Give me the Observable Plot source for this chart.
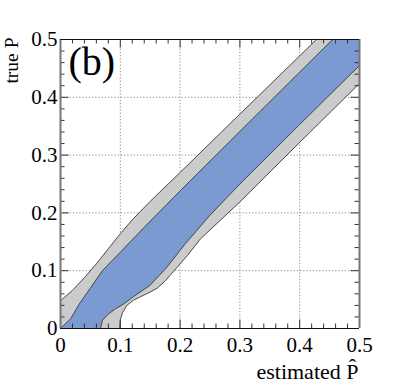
<!DOCTYPE html>
<html><head><meta charset="utf-8">
<script src="https://cdn.jsdelivr.net/npm/d3@7"></script>
<script src="https://cdn.jsdelivr.net/npm/@observablehq/plot@0.6"></script>
<style>
body{margin:0;background:#fff}
#chart svg text{font-family:'Liberation Serif','Times New Roman','DejaVu Serif',serif !important;}
</style>
</head><body><div id="chart"></div>
<script>
// Axis ticks
const majorTicks = [0, 0.1, 0.2, 0.3, 0.4, 0.5];
const minorTicks = [0.02, 0.04, 0.06, 0.08, 0.12, 0.14, 0.16, 0.18, 0.22, 0.24, 0.26, 0.28,
                    0.32, 0.34, 0.36, 0.38, 0.42, 0.44, 0.46, 0.48];
const gridTicks = [0.1, 0.2, 0.3, 0.4];
const domain = [0, 0.5];

// Contour edges (estimated P-hat, true P)
const outerUpperX = [0, 0.02, 0.04, 0.06, 0.08, 0.1, 0.12, 0.15, 0.2, 0.3, 0.428];
const outerUpperY = [0.048, 0.066, 0.088, 0.112, 0.138, 0.164, 0.188, 0.22, 0.27, 0.371, 0.5];
const innerUpperX = [0, 0.017, 0.033, 0.05, 0.07, 0.1, 0.137, 0.2, 0.3, 0.455];
const innerUpperY = [0, 0.017, 0.045, 0.07, 0.1, 0.132, 0.172, 0.238, 0.341, 0.5];
const innerLowerX = [0.067, 0.07, 0.08, 0.092, 0.105, 0.122, 0.15, 0.178, 0.209, 0.25, 0.3, 0.4, 0.5];
const innerLowerY = [0, 0.014, 0.025, 0.034, 0.042, 0.055, 0.075, 0.106, 0.147, 0.196, 0.25, 0.353, 0.455];
const outerLowerX = [0.099, 0.1, 0.104, 0.111, 0.122, 0.134, 0.148, 0.162, 0.175, 0.19, 0.212, 0.234, 0.3, 0.4, 0.5];
const outerLowerY = [0, 0.015, 0.028, 0.04, 0.049, 0.055, 0.062, 0.07, 0.082, 0.1, 0.126, 0.155, 0.219, 0.322, 0.424];
// band corner points (origin and top-right corner)
const cornerLow = {x: 0, y: 0};
const cornerHigh = {x: 0.5, y: 0.5};

const pts = (xs, ys) => xs.map((x, i) => ({x, y: ys[i]}));
const outerUpper = pts(outerUpperX, outerUpperY);
const innerUpper = pts(innerUpperX, innerUpperY);
const innerLower = pts(innerLowerX, innerLowerY);
const outerLower = pts(outerLowerX, outerLowerY);

const grayPoly = [cornerLow, ...outerUpper, cornerHigh, ...outerLower.slice().reverse(), cornerLow];
const bluePoly = [cornerLow, ...innerUpper, cornerHigh, ...innerLower.slice().reverse(), cornerLow];

const W = 399, H = 389, mL = 60, mR = 40, mT = 39, mB = 61;
const iw = W - mL - mR, ih = H - mT - mB;
const serif = "'Liberation Serif', 'Times New Roman', 'DejaVu Serif', serif";
const fmt = d => d === 0 ? "0" : d.toFixed(1);
const majLen = 8.5, minLen = 4.5;
const tickColor = "#333";
const edge = {x: "x", y: "y", stroke: "#3a3a3a", strokeWidth: 0.9};

const chart = Plot.plot({
  width: W, height: H,
  marginLeft: mL, marginRight: mR, marginTop: mT, marginBottom: mB,
  x: {domain, axis: null},
  y: {domain, axis: null},
  style: {fontFamily: serif, background: "white", color: "black"},
  marks: [
    Plot.ruleX(gridTicks, {x: d => d, stroke: "#8a8a8a", strokeDasharray: "1.2,2", strokeWidth: 1}),
    Plot.ruleY(gridTicks, {y: d => d, stroke: "#8a8a8a", strokeDasharray: "1.2,2", strokeWidth: 1}),
    Plot.line(grayPoly, {x: "x", y: "y", fill: "#cbcbcb", stroke: "none"}),
    Plot.line(bluePoly, {x: "x", y: "y", fill: "#7b9ad2", stroke: "none"}),
    Plot.line(outerUpper, edge),
    Plot.line(innerUpper, edge),
    Plot.line(innerLower, edge),
    Plot.line(outerLower, edge),
    // ticks (inward, all four sides)
    Plot.tickX(majorTicks, {x: d => d, insetTop: ih - majLen, stroke: tickColor}),
    Plot.tickX(minorTicks, {x: d => d, insetTop: ih - minLen, stroke: tickColor}),
    Plot.tickX(majorTicks, {x: d => d, insetBottom: ih - majLen, stroke: tickColor}),
    Plot.tickX(minorTicks, {x: d => d, insetBottom: ih - minLen, stroke: tickColor}),
    Plot.tickY(majorTicks, {y: d => d, insetRight: iw - majLen, stroke: tickColor}),
    Plot.tickY(minorTicks, {y: d => d, insetRight: iw - minLen, stroke: tickColor}),
    Plot.tickY(majorTicks, {y: d => d, insetLeft: iw - majLen, stroke: tickColor}),
    Plot.tickY(minorTicks, {y: d => d, insetLeft: iw - minLen, stroke: tickColor}),
    // frame
    Plot.ruleX(domain, {x: d => d, stroke: "#777", strokeWidth: 2}),
    Plot.ruleY(domain, {y: d => d, stroke: "#111", strokeWidth: 1.2}),
    // tick labels
    Plot.axisX({anchor: "bottom", ticks: majorTicks, tickSize: 0, tickPadding: 9, tickFormat: fmt,
                fontSize: 21, fontFamily: serif, label: null}),
    Plot.axisY({anchor: "left", ticks: majorTicks, tickSize: 0, tickPadding: 3, tickFormat: fmt,
                fontSize: 21, fontFamily: serif, label: null}),
    // titles
    Plot.text(["estimated P\u0302"], {frameAnchor: "bottom-right", textAnchor: "end", lineAnchor: "middle",
                dx: -1, dy: 43, fontSize: 22, fontFamily: serif, fill: "black"}),
    Plot.text(["true P"], {frameAnchor: "top-left", textAnchor: "end", lineAnchor: "middle", rotate: -90,
                dx: -48.8, dy: -2, fontSize: 19.5, fontFamily: serif, fill: "black"}),
    Plot.text(["(b)"], {frameAnchor: "top-left", textAnchor: "start", lineAnchor: "middle",
                dx: 8, dy: 23, fontSize: 40, fontFamily: serif, fill: "black"})
  ]
});
document.getElementById("chart").appendChild(chart);
</script>
</body></html>
